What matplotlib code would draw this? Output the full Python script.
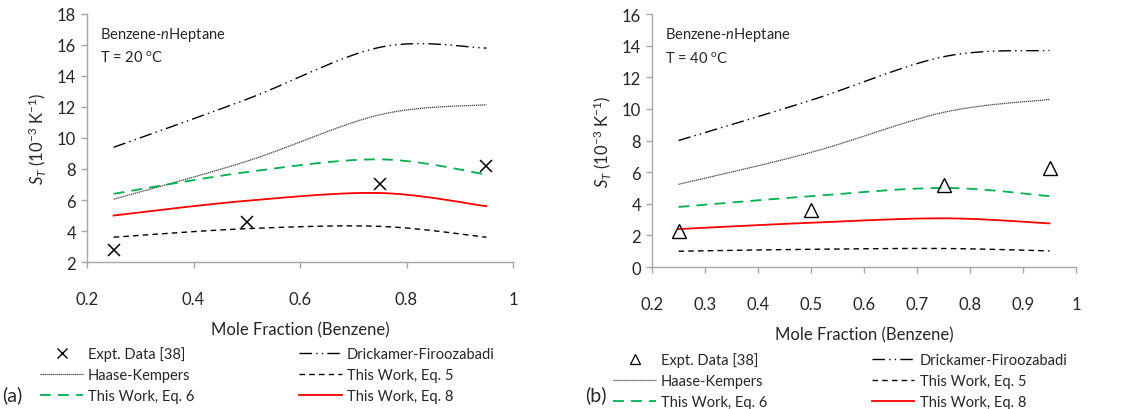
import numpy as np
import matplotlib.pyplot as plt
from matplotlib.lines import Line2D

plt.rcParams["font.family"] = ["Lato", "DejaVu Sans"]
plt.rcParams["mathtext.fontset"] = "custom"
plt.rcParams["mathtext.rm"] = "Lato"
plt.rcParams["mathtext.it"] = "Lato:italic"

# mole fraction of benzene where each series was evaluated
x_frac = [0.25, 0.5, 0.75, 0.95]

# (a) T = 20 C
expt_20 = [2.8, 4.6, 7.0, 8.2]
drick_20 = [9.4, 12.5, 15.85, 15.8]
haase_20 = [6.05, 8.5, 11.5, 12.15]
eq5_20 = [3.6, 4.15, 4.3, 3.6]
eq6_20 = [6.4, 7.8, 8.62, 7.65]
eq8_20 = [5.0, 5.95, 6.45, 5.6]

# (b) T = 40 C
expt_40 = [2.3, 3.6, 5.2, 6.25]
drick_40 = [8.0, 10.55, 13.3, 13.7]
haase_40 = [5.23, 7.25, 9.78, 10.6]
eq5_40 = [1.0, 1.12, 1.17, 1.02]
eq6_40 = [3.8, 4.48, 5.0, 4.48]
eq8_40 = [2.4, 2.8, 3.08, 2.76]

GREEN = "#00b050"
RED = "#ff0000"
AXIS_GRAY = "#a6a6a6"
TEXT = "#262626"

STYLES = {
    "drick": dict(color="black", lw=1.0, dashes=(9, 3, 1, 3, 1, 3)),
    "haase": dict(color="#404040", lw=0.9, dashes=(1, 0.6)),
    "eq5": dict(color="black", lw=1.0, dashes=(4, 3)),
    "eq6": dict(color=GREEN, lw=1.3, dashes=(6, 4)),
    "eq8": dict(color=RED, lw=1.3),
}


def smooth(x, y, n=40):
    # Bezier smoothing of a polyline, like spreadsheet "smoothed line" charts
    x = np.asarray(x, float)
    y = np.asarray(y, float)
    px = np.concatenate([[x[0]], x, [x[-1]]])
    py = np.concatenate([[y[0]], y, [y[-1]]])
    xs, ys = [], []
    t = np.linspace(0, 1, n)
    for i in range(1, len(px) - 2):
        p0 = np.array([px[i], py[i]])
        p3 = np.array([px[i + 1], py[i + 1]])
        p1 = p0 + (np.array([px[i + 1], py[i + 1]]) - np.array([px[i - 1], py[i - 1]])) / 6
        p2 = p3 - (np.array([px[i + 2], py[i + 2]]) - np.array([px[i], py[i]])) / 6
        b = ((1 - t) ** 3)[:, None] * p0 + (3 * (1 - t) ** 2 * t)[:, None] * p1 \
            + (3 * (1 - t) * t ** 2)[:, None] * p2 + (t ** 3)[:, None] * p3
        xs.append(b[:, 0])
        ys.append(b[:, 1])
    return np.concatenate(xs), np.concatenate(ys)


def draw_panel(ax, expt, drick, haase, eq5, eq6, eq8, marker, ylim, yticks,
               xticks, temp, leg_x):
    for key, vals in [("drick", drick), ("haase", haase), ("eq6", eq6),
                      ("eq8", eq8), ("eq5", eq5)]:
        sx, sy = smooth(x_frac, vals)
        ax.plot(sx, sy, **STYLES[key])
    if marker == "x":
        ax.plot(x_frac, expt, ls="none", marker="x", ms=9, mew=1.1, color="black")
    else:
        ax.plot(x_frac, expt, ls="none", marker="^", ms=10, mew=1.0,
                mfc="none", mec="black")

    ax.set_xlim(0.2, 1.0)
    ax.set_ylim(*ylim)
    ax.set_xticks(xticks)
    ax.set_xticklabels([f"{v:g}" for v in xticks])
    ax.set_yticks(yticks)
    for s in ["top", "right"]:
        ax.spines[s].set_visible(False)
    for s in ["left", "bottom"]:
        ax.spines[s].set_color(AXIS_GRAY)
        ax.spines[s].set_linewidth(1.0)
    ax.tick_params(direction="out", length=4, width=1.0, color=AXIS_GRAY,
                   labelsize=12, labelcolor=TEXT, pad=4)
    ax.tick_params(axis="x", pad=17)
    ax.set_xlabel("Mole Fraction (Benzene)", fontsize=12, color=TEXT, labelpad=10)
    ax.set_ylabel(r"$S_T$ (10$^{-3}$ K$^{-1}$)", fontsize=12, color=TEXT, labelpad=6)

    ax.text(0.03, 0.955, r"Benzene-$\it{n}$Heptane", transform=ax.transAxes,
            fontsize=10.5, color=TEXT, va="top")
    ax.text(0.03, 0.855, f"T = {temp} " + r"$^{\mathrm{o}}$C", transform=ax.transAxes,
            fontsize=10.5, color=TEXT, va="top")

    if marker == "x":
        h_expt = Line2D([], [], ls="none", marker="x", ms=7, mew=1.0, color="black")
    else:
        h_expt = Line2D([], [], ls="none", marker="^", ms=7, mew=0.9,
                        mfc="none", mec="black")
    handles = [
        h_expt,
        Line2D([], [], **STYLES["haase"]),
        Line2D([], [], **STYLES["eq6"]),
        Line2D([], [], **STYLES["drick"]),
        Line2D([], [], **STYLES["eq5"]),
        Line2D([], [], **STYLES["eq8"]),
    ]
    labels = ["Expt. Data [38]", "Haase-Kempers", "This Work, Eq. 6",
              "Drickamer-Firoozabadi", "This Work, Eq. 5", "This Work, Eq. 8"]
    leg = ax.legend(handles, labels, ncol=2, loc="upper left",
                    bbox_to_anchor=(leg_x, -0.315), frameon=False, fontsize=10.5,
                    handlelength=2.9, handletextpad=0.35, columnspacing=7.2,
                    labelspacing=0.48, borderaxespad=0)
    for t in leg.get_texts():
        t.set_color(TEXT)
    return leg


fig = plt.figure(figsize=(11.33, 4.10), dpi=100)
ax_a = fig.add_axes([0.0768, 0.3585, 0.376, 0.605])
ax_b = fig.add_axes([0.5755, 0.3463, 0.3742, 0.617])

draw_panel(ax_a, expt_20, drick_20, haase_20, eq5_20, eq6_20, eq8_20, "x",
           (2, 18), np.arange(2, 19, 2), [0.2, 0.4, 0.6, 0.8, 1.0], 20, -0.123)
draw_panel(ax_b, expt_40, drick_40, haase_40, eq5_40, eq6_40, eq8_40, "^",
           (0, 16), np.arange(0, 17, 2), list(np.round(np.arange(0.2, 1.01, 0.1), 1)),
           40, -0.105)

fig.text(0.002, 0.022, "(a)", fontsize=14, color=TEXT)
fig.text(0.516, 0.022, "(b)", fontsize=14, color=TEXT)

fig.savefig("out.png", dpi=100)
